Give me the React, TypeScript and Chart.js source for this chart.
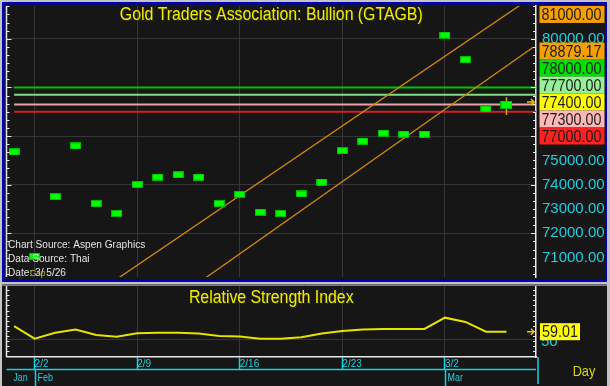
import React, { useEffect, useRef } from 'react';
import { Chart, registerables } from 'chart.js';

Chart.register(...registerables);

// ---------------- data ----------------
const dates = ['1/30', '2/2', '2/3', '2/4', '2/5', '2/6', '2/9', '2/10', '2/11', '2/12', '2/13', '2/16', '2/17', '2/18', '2/19', '2/20', '2/23', '2/24', '2/25', '2/26', '2/27', '3/2', '3/3', '3/4', '3/5'];
const closes = [75347, 71061, 73510, 75592, 73224, 72816, 74012, 74313, 74408, 74313, 73224, 73605, 72871, 72816, 73620, 74110, 75400, 75796, 76122, 76082, 76082, 80151, 79143, 77114, 77290];
const lastBarHigh = 77600;
const lastBarLow = 76860;
const rsiValues = [65.7, 50.7, 57.8, 61.6, 55.1, 53.1, 57.1, 57.8, 57.8, 56.9, 53.9, 53.3, 50.7, 50.7, 52.4, 56.9, 59.8, 61.6, 62.2, 62.2, 62.2, 75.6, 70.5, 59.0, 59.01];
const weekLabels = ['2/2', '2/9', '2/16', '2/23', '3/2'];
const monthLabels = ['Jan', 'Feb', 'Mar'];
const priceTicks = [71000, 72000, 73000, 74000, 75000, 76000, 77000, 78000, 79000, 80000, 81000];
const levelValues = [78000, 77700, 77300, 77000];
const levelColors = ['#00c400', '#7fdc7f', '#e8a4a4', '#d02020'];
const upperChannelX = [5, 25.5];
const upperChannelY = [70113, 81860];
const lowerChannelX = [9, 25.3];
const lowerChannelY = [69970, 79652];
const priceBoxValues = [81000, 78879.17, 78000, 77700, 77400, 77300, 77000];
const priceBoxColors = ['#f5a000', '#f5a000', '#00e000', '#98f098', '#ffff00', '#ffb6b6', '#ff2020'];
const lastPrice = 77400;
const rsiLast = 59.01;
const rsiTicks = [50];
const sourceLines = ['Chart Source: Aspen Graphics', 'Data Source: Thai', 'Date: 3/ 5/26'];
const titleText = 'Gold Traders Association: Bullion (GTAGB)';
const rsiTitle = 'Relative Strength Index';
const periodText = 'Day';

// ---------------- style ----------------
const SANS = "'Liberation Sans', Arial, sans-serif";
const FRAME_GRAY = '#c4c4c4';
const BLUE = '#0000b4';
const PANEL = '#161616';
const GRID = '#363636';
const CYAN = '#18d0e0';
const YELLOW = '#eeee00';
const AXIS_WHITE = '#e8e8e8';
const X_MIN = -0.37;
const X_MAX = 25.44;
const Y_MIN = 70204;
const Y_MAX = 81347;
const RSI_MIN = 29.1;
const RSI_MAX = 113;

const weekIdx = weekLabels.map((l) => dates.indexOf(l));
const monthStartIdx = (() => {
  const res: number[] = [];
  let prev = '';
  dates.forEach((d, i) => {
    const m = d.split('/')[0];
    if (m !== prev) res.push(i);
    prev = m;
  });
  return res;
})();

function makeBox(w: number, h: number) {
  const c = document.createElement('canvas');
  c.width = w;
  c.height = h;
  const g = c.getContext('2d')!;
  g.fillStyle = '#00b800';
  g.fillRect(0, 0, w, h);
  g.fillStyle = '#00ff00';
  g.fillRect(1, 1, w - 2, h - 2);
  return c;
}

// text drawn with a horizontal squeeze, to mimic the narrow face of the original
function condensedText(ctx: CanvasRenderingContext2D, text: string, x: number, y: number, size: number, sx: number, align: CanvasTextAlign, color: string) {
  ctx.save();
  ctx.translate(x, y);
  ctx.scale(sx, 1);
  ctx.font = `${size}px ${SANS}`;
  ctx.textAlign = align;
  ctx.textBaseline = 'middle';
  ctx.fillStyle = color;
  ctx.fillText(text, 0, 0);
  ctx.restore();
}

function drawArrow(ctx: CanvasRenderingContext2D, x: number, y: number) {
  ctx.save();
  ctx.strokeStyle = '#f0c000';
  ctx.lineWidth = 1.5;
  ctx.beginPath();
  ctx.moveTo(x - 5, y);
  ctx.lineTo(x + 2, y);
  ctx.moveTo(x - 1, y - 3);
  ctx.lineTo(x + 2, y);
  ctx.lineTo(x - 1, y + 3);
  ctx.stroke();
  ctx.restore();
}

function drawValueBox(ctx: CanvasRenderingContext2D, text: string, left: number, cy: number, w: number, h: number, bg: string) {
  ctx.fillStyle = bg;
  ctx.fillRect(left, cy - h / 2, w, h);
  condensedText(ctx, text, left + 2, cy + 1, 16.5, 0.87, 'left', '#1c1c1c');
}

function axisTicks(ctx: CanvasRenderingContext2D, scale: any, x: number, dir: number, step: number, majorStep: number, from: number, to: number) {
  ctx.save();
  ctx.strokeStyle = AXIS_WHITE;
  ctx.lineWidth = 1;
  for (let v = Math.ceil(from / step) * step; v <= to; v += step) {
    const py = Math.round(scale.getPixelForValue(v)) + 0.5;
    const major = Math.abs(v / majorStep - Math.round(v / majorStep)) < 1e-6;
    ctx.beginPath();
    ctx.moveTo(x, py);
    ctx.lineTo(x + dir * (major ? 5 : 3), py);
    ctx.stroke();
  }
  ctx.restore();
}

const topPlugin = {
  id: 'topDecor',
  beforeDraw(chart: any) {
    const ctx = chart.ctx as CanvasRenderingContext2D;
    ctx.save();
    ctx.fillStyle = FRAME_GRAY;
    ctx.fillRect(0, 0, chart.width, chart.height);
    ctx.fillStyle = BLUE;
    ctx.fillRect(2, 2, 605, 280);
    ctx.fillStyle = PANEL;
    ctx.fillRect(4.5, 4.5, 600.5, 275);
    ctx.restore();
  },
  afterDraw(chart: any) {
    const ctx = chart.ctx as CanvasRenderingContext2D;
    const a = chart.chartArea;
    const y = chart.scales.y;
    ctx.save();
    // left axis line
    ctx.strokeStyle = AXIS_WHITE;
    ctx.lineWidth = 1.5;
    ctx.beginPath();
    ctx.moveTo(a.left, a.top);
    ctx.lineTo(a.left, a.bottom);
    ctx.stroke();
    axisTicks(ctx, y, a.left, 1, 1000 / 3, 2000, Y_MIN, Y_MAX);
    axisTicks(ctx, y, a.right, -1, 1000 / 3, 2000, Y_MIN, Y_MAX);

    // title
    const cx = (a.left + a.right) / 2;
    condensedText(ctx, titleText, cx + 1, 16, 18, 0.88, 'center', '#303000');
    condensedText(ctx, titleText, cx, 15, 18, 0.88, 'center', YELLOW);

    // source lines
    sourceLines.forEach((t, i) => condensedText(ctx, t, 8, 245 + i * 14, 11.5, 0.88, 'left', '#e4e4e4'));
    condensedText(ctx, 'Gsp', 30, 274, 8.5, 1, 'left', '#b8b800');

    // arrow marking last value
    drawArrow(ctx, a.right - 4, y.getPixelForValue(lastPrice));

    // stacked value boxes on the right
    const BOX_H = 17;
    const anchor = priceBoxValues.indexOf(lastPrice);
    const pos = priceBoxValues.map((v) => y.getPixelForValue(v));
    for (let i = anchor - 1; i >= 0; i--) pos[i] = Math.min(pos[i], pos[i + 1] - BOX_H);
    for (let i = anchor + 1; i < pos.length; i++) pos[i] = Math.max(pos[i], pos[i - 1] + BOX_H);
    priceBoxValues.forEach((v, i) => {
      drawValueBox(ctx, v.toFixed(2), 539.5, pos[i], 65, BOX_H, priceBoxColors[i]);
    });
    ctx.restore();
  },
};

const bottomPlugin = {
  id: 'bottomDecor',
  beforeDraw(chart: any) {
    const ctx = chart.ctx as CanvasRenderingContext2D;
    ctx.save();
    ctx.fillStyle = FRAME_GRAY;
    ctx.fillRect(0, 0, chart.width, chart.height);
    ctx.fillStyle = PANEL;
    ctx.fillRect(2, 1.5, 605, chart.height - 1.5);
    ctx.restore();
  },
  afterDraw(chart: any) {
    const ctx = chart.ctx as CanvasRenderingContext2D;
    const a = chart.chartArea;
    const x = chart.scales.x;
    const y = chart.scales.y;
    ctx.save();
    // plot frame
    ctx.strokeStyle = AXIS_WHITE;
    ctx.lineWidth = 1.5;
    ctx.beginPath();
    ctx.moveTo(a.left, a.top);
    ctx.lineTo(a.left, a.bottom);
    ctx.stroke();
    ctx.strokeStyle = '#7a7a7a';
    ctx.lineWidth = 1;
    ctx.beginPath();
    ctx.moveTo(2, a.top - 0.5);
    ctx.lineTo(607, a.top - 0.5);
    ctx.stroke();
    axisTicks(ctx, y, a.left, 1, 6, 50, RSI_MIN, RSI_MAX);
    axisTicks(ctx, y, a.right, -1, 6, 50, RSI_MIN, RSI_MAX);

    // title
    const cx = (a.left + a.right) / 2;
    condensedText(ctx, rsiTitle, cx + 1, 16, 18, 0.88, 'center', '#303000');
    condensedText(ctx, rsiTitle, cx, 15, 18, 0.88, 'center', YELLOW);

    // date axis decorations
    const rowY = a.bottom + 12.5;
    ctx.strokeStyle = CYAN;
    ctx.lineWidth = 1.5;
    ctx.beginPath();
    ctx.moveTo(a.left, rowY);
    ctx.lineTo(a.right, rowY);
    ctx.stroke();
    ctx.beginPath();
    ctx.moveTo(a.right + 2, a.bottom);
    ctx.lineTo(a.right + 2, chart.height - 2);
    ctx.stroke();
    monthLabels.forEach((m, i) => {
      const start = monthStartIdx[i];
      if (i === 0) {
        const nextPx = x.getPixelForValue(monthStartIdx[1]);
        condensedText(ctx, m, (a.left + nextPx) / 2, rowY + 8.5, 10.5, 0.85, 'center', CYAN);
      } else {
        const px = Math.round(x.getPixelForValue(start)) + 0.5;
        ctx.beginPath();
        ctx.moveTo(px, rowY);
        ctx.lineTo(px, chart.height);
        ctx.stroke();
        condensedText(ctx, m, px + 2, rowY + 8.5, 10.5, 0.85, 'left', CYAN);
      }
    });

    // arrow and last value box
    const ly = y.getPixelForValue(rsiLast);
    drawArrow(ctx, a.right - 4, ly);
    drawValueBox(ctx, rsiLast.toFixed(2), 540, ly, 40, 17, '#ffff00');

    condensedText(ctx, periodText, 584, a.bottom + 15, 15, 0.85, 'center', '#d8d800');
    ctx.restore();
  },
};

export default function App() {
  const topRef = useRef<HTMLCanvasElement>(null);
  const botRef = useRef<HTMLCanvasElement>(null);

  useEffect(() => {
    const box = makeBox(11, 7);
    const bigBox = makeBox(12, 8);
    const lastIdx = closes.length - 1;

    const top = new Chart(topRef.current!, {
      type: 'line',
      data: {
        datasets: [
          {
            data: closes.map((v, i) => ({ x: i, y: v })),
            showLine: false,
            pointRadius: 5,
            pointStyle: ((c: any) => (c.dataIndex === lastIdx ? bigBox : box)) as any,
          },
          {
            data: [
              { x: lastIdx, y: lastBarLow },
              { x: lastIdx, y: lastBarHigh },
            ],
            borderColor: '#d0a800',
            borderWidth: 1.5,
            pointRadius: 0,
          },
          {
            data: upperChannelX.map((xv, i) => ({ x: xv, y: upperChannelY[i] })),
            borderColor: '#d08c00',
            borderWidth: 1.3,
            pointRadius: 0,
          },
          {
            data: lowerChannelX.map((xv, i) => ({ x: xv, y: lowerChannelY[i] })),
            borderColor: '#d08c00',
            borderWidth: 1.3,
            pointRadius: 0,
          },
          ...levelValues.map((lv, i) => ({
            data: [
              { x: 0, y: lv },
              { x: X_MAX, y: lv },
            ],
            borderColor: levelColors[i],
            borderWidth: 2,
            pointRadius: 0,
          })),
        ],
      },
      options: {
        animation: false,
        responsive: false,
        maintainAspectRatio: false,
        layout: { padding: { left: 6.5, top: 5, right: 4, bottom: 5 } },
        plugins: { legend: { display: false }, tooltip: { enabled: false } },
        scales: {
          x: {
            type: 'linear',
            min: X_MIN,
            max: X_MAX,
            afterBuildTicks: (s: any) => {
              s.ticks = weekIdx.map((v) => ({ value: v }));
            },
            afterFit: (s: any) => {
              s.height = 0;
              s.paddingLeft = 0;
              s.paddingRight = 0;
            },
            grid: { color: GRID, drawTicks: false, lineWidth: 1 },
            border: { display: false },
            ticks: { display: false },
          },
          y: {
            position: 'right',
            min: Y_MIN,
            max: Y_MAX,
            afterBuildTicks: (s: any) => {
              s.ticks = priceTicks.map((v) => ({ value: v }));
            },
            afterFit: (s: any) => {
              s.width = 70;
              s.paddingTop = 0;
              s.paddingBottom = 0;
            },
            grid: {
              color: (c: any) => (c.tick && c.tick.value % 2000 === 0 ? GRID : 'rgba(0,0,0,0)'),
              drawTicks: false,
            },
            border: { color: AXIS_WHITE, width: 1.5 },
            ticks: {
              color: CYAN,
              padding: 6,
              font: { family: SANS, size: 15 },
              callback: (v: any) => Number(v).toFixed(2),
            },
          },
        },
      },
      plugins: [topPlugin],
    } as any);

    const bottom = new Chart(botRef.current!, {
      type: 'line',
      data: {
        datasets: [
          {
            data: rsiValues.map((v, i) => ({ x: i, y: v })),
            borderColor: '#e4e400',
            borderWidth: 2,
            pointRadius: 0,
            tension: 0,
          },
        ],
      },
      options: {
        animation: false,
        responsive: false,
        maintainAspectRatio: false,
        layout: { padding: { left: 6.5, top: 3, right: 4, bottom: 0 } },
        plugins: { legend: { display: false }, tooltip: { enabled: false } },
        scales: {
          x: {
            type: 'linear',
            min: X_MIN,
            max: X_MAX,
            afterBuildTicks: (s: any) => {
              s.ticks = weekIdx.map((v) => ({ value: v }));
            },
            afterFit: (s: any) => {
              s.height = 29;
              s.paddingLeft = 0;
              s.paddingRight = 0;
            },
            grid: { color: GRID, drawTicks: true, tickLength: 12, tickColor: CYAN, tickWidth: 1.5 },
            border: { color: AXIS_WHITE, width: 1.5 },
            ticks: {
              color: CYAN,
              align: 'start',
              padding: -11,
              maxRotation: 0,
              autoSkip: false,
              font: { family: SANS, size: 10 },
              callback: (v: any) => dates[Math.round(Number(v))],
            },
          },
          y: {
            position: 'right',
            min: RSI_MIN,
            max: RSI_MAX,
            afterBuildTicks: (s: any) => {
              s.ticks = rsiTicks.map((v) => ({ value: v }));
            },
            afterFit: (s: any) => {
              s.width = 70;
              s.paddingTop = 0;
              s.paddingBottom = 0;
            },
            grid: { color: GRID, drawTicks: false },
            border: { color: AXIS_WHITE, width: 1.5 },
            ticks: {
              color: CYAN,
              padding: 5,
              labelOffset: 3,
              font: { family: SANS, size: 15 },
            },
          },
        },
      },
      plugins: [bottomPlugin],
    } as any);

    return () => {
      top.destroy();
      bottom.destroy();
    };
  }, []);

  return (
    <div style={{ position: 'fixed', left: 0, top: 0, width: 610, height: 386, background: FRAME_GRAY, overflow: 'hidden' }}>
      <canvas ref={topRef} width={610} height={283} style={{ position: 'absolute', left: 0, top: 0, width: 610, height: 283 }} />
      <canvas ref={botRef} width={610} height={103} style={{ position: 'absolute', left: 0, top: 283, width: 610, height: 103 }} />
    </div>
  );
}
